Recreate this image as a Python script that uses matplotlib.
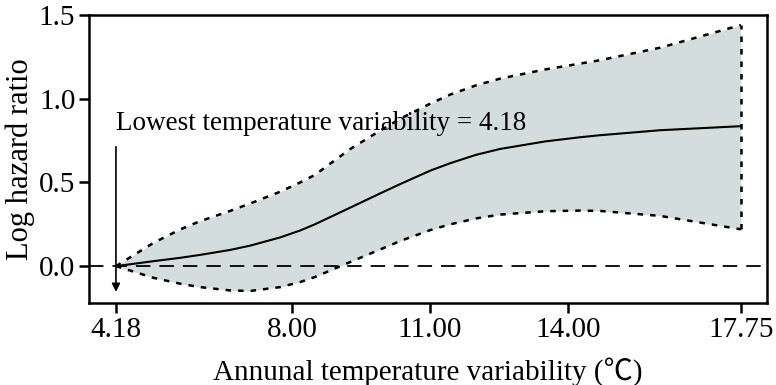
import matplotlib.pyplot as plt

# estimated curve (log hazard ratio) and 95% CI
x_fit = [4.18, 5.0, 5.58, 6.0, 6.66, 7.1, 7.75, 8.18, 8.5, 9.27, 9.92, 10.35, 11.0, 11.44,
         12.0, 12.52, 13.5, 14.26, 14.69, 16.0, 17.75]
y_fit = [0.0, 0.03, 0.05, 0.067, 0.097, 0.123, 0.172, 0.213, 0.25, 0.35, 0.435, 0.49, 0.57, 0.615,
         0.665, 0.70, 0.745, 0.77, 0.782, 0.812, 0.836]
y_upper = [0.0, 0.14, 0.22, 0.268, 0.33, 0.375, 0.445, 0.50, 0.545, 0.70, 0.81, 0.88, 0.97, 1.025,
           1.08, 1.12, 1.175, 1.21, 1.23, 1.305, 1.44]
y_lower = [0.0, -0.07, -0.105, -0.125, -0.145, -0.148, -0.125, -0.095, -0.065, 0.025, 0.10, 0.15, 0.215, 0.25,
           0.285, 0.308, 0.328, 0.332, 0.33, 0.30, 0.22]

xticks = [4.18, 8.00, 11.00, 14.00, 17.75]
xtick_labels = ['4.18', '8.00', '11.00', '14.00', '17.75']
yticks = [0.0, 0.5, 1.0, 1.5]
min_var = 4.18

plt.rcParams['font.family'] = ['Liberation Serif', 'Noto Sans CJK SC', 'DejaVu Serif']
plt.rcParams['font.size'] = 21

fig, ax = plt.subplots(figsize=(7.76, 3.85), dpi=100)
fig.subplots_adjust(left=0.115, right=0.988, top=0.961, bottom=0.213)

ax.fill_between(x_fit, y_lower, y_upper, color='#d3dddd', lw=0)
ax.plot(x_fit, y_fit, color='black', lw=1.5)
ax.plot(x_fit, y_upper, color='black', lw=1.8, ls=(0, (2.2, 2.8)))
ax.plot(x_fit, y_lower, color='black', lw=1.8, ls=(0, (2.2, 2.8)))
ax.plot([x_fit[-1], x_fit[-1]], [y_lower[-1], y_upper[-1]], color='black', lw=1.8, ls=(0, (2.2, 2.8)))
ax.axhline(0, color='black', lw=1.3, ls=(0, (8, 5)))

# arrow marking the reference value
ax.annotate('', xy=(min_var, -0.17), xytext=(min_var, 0.73),
            arrowprops=dict(arrowstyle='-|>', color='black', lw=1.2, mutation_scale=12))
ax.text(min_var, 0.855, 'Lowest temperature variability = 4.18', ha='left', va='center', fontsize=19.5)

ax.set_xlim(3.60, 18.31)
ax.set_ylim(-0.22, 1.5)
ax.set_xticks(xticks)
ax.set_xticklabels(xtick_labels)
ax.set_yticks(yticks)
ax.set_yticklabels(['0.0', '0.5', '1.0', '1.5'])
ax.tick_params(direction='out', length=7, width=1.8, pad=3)
for s in ax.spines.values():
    s.set_linewidth(1.8)

ax.set_xlabel('Annunal temperature variability (℃)', labelpad=10)
ax.set_ylabel('Log hazard ratio', labelpad=3, fontsize=22)

plt.savefig('out.png', dpi=100)
